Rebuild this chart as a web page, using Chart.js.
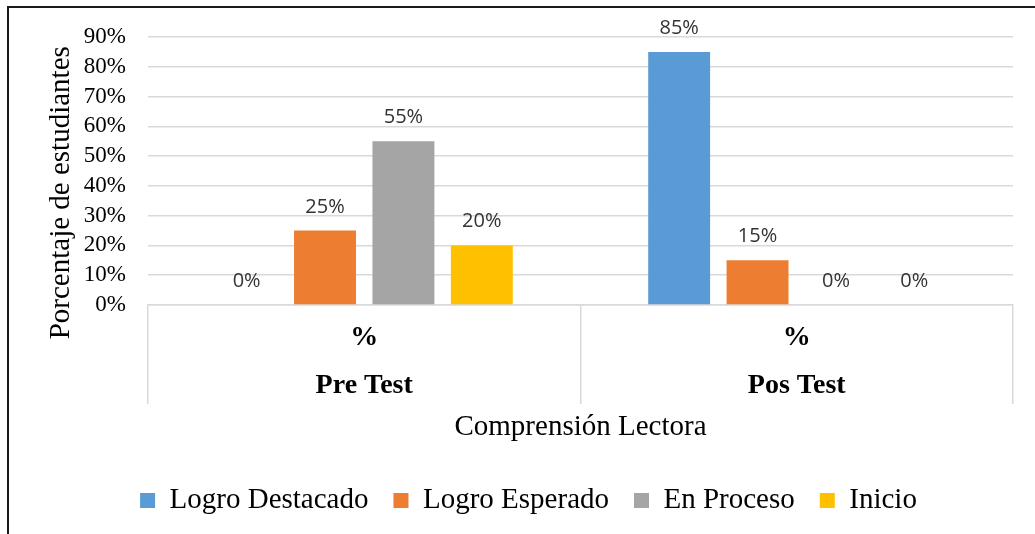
<!DOCTYPE html>
<html>
<head>
<meta charset="utf-8">
<script src="https://cdn.jsdelivr.net/npm/chart.js@4"></script>
<style>
  html, body { margin: 0; padding: 0; background: #fff; overflow: hidden; }
  #frame { position: absolute; left: 7px; top: 6px; width: 2000px; height: 2000px; border: 2px solid #1a1a1a; }
  #wrap { position: absolute; left: 0; top: 0; width: 1035px; height: 534px; }
</style>
</head>
<body>
<div id="frame"></div>
<div id="wrap"><canvas id="myChart" width="1035" height="534"></canvas></div>
<script>
// categories (two-level labels: sub label, test)
const categories = [['%', 'Pre Test'], ['%', 'Pos Test']];
const seriesNames = ['Logro Destacado', 'Logro Esperado', 'En Proceso', 'Inicio'];
const logroDestacado = [0, 85];
const logroEsperado = [25, 15];
const enProceso = [55, 0];
const inicio = [20, 0];
const seriesColors = ['#5B9BD5', '#ED7D31', '#A5A5A5', '#FFC000'];
const yTicks = [0, 10, 20, 30, 40, 50, 60, 70, 80, 90];

const serif = '"Liberation Serif", "Times New Roman", serif';

// value labels above each bar
const barLabels = {
    id: 'barLabels',
    afterDatasetsDraw(chart) {
        const ctx = chart.ctx;
        ctx.save();
        ctx.font = '20px "Open Sans", sans-serif';
        ctx.fillStyle = '#333';
        ctx.textAlign = 'center';
        ctx.textBaseline = 'alphabetic';
        chart.data.datasets.forEach((ds, i) => {
            chart.getDatasetMeta(i).data.forEach((bar, j) => {
                ctx.fillText(ds.data[j] + '%', bar.x, bar.y - 18);
            });
        });
        ctx.restore();
    }
};

document.addEventListener("DOMContentLoaded", () => {
    const allSeries = [logroDestacado, logroEsperado, enProceso, inicio];
    const ctx = document.getElementById('myChart').getContext('2d');
    new Chart(ctx, {
        type: 'bar',
        data: {
            labels: categories,
            datasets: allSeries.map((data, i) => ({
                label: seriesNames[i],
                data: data,
                backgroundColor: seriesColors[i],
                borderWidth: 0,
                barPercentage: 0.79,
                categoryPercentage: 0.725
            }))
        },
        options: {
            responsive: false,
            animation: false,
            layout: { padding: { left: 44, right: 22, top: 37, bottom: 9 } },
            plugins: {
                tooltip: { enabled: false },
                legend: {
                    position: 'bottom',
                    labels: {
                        font: { family: serif, size: 29 },
                        color: '#000',
                        boxWidth: 15,
                        boxHeight: 15,
                        padding: 25
                    }
                }
            },
            scales: {
                x: {
                    grid: {
                        offset: true,
                        drawOnChartArea: false,
                        drawTicks: true,
                        tickLength: 99,
                        color: '#d9d9d9',
                        lineWidth: 1.5
                    },
                    border: { display: true, color: '#d9d9d9', width: 1.5 },
                    ticks: {
                        font: { family: serif, size: 28, weight: 'bold', lineHeight: 1.72 },
                        color: '#000',
                        padding: -90,
                        maxRotation: 0
                    },
                    title: {
                        display: true,
                        text: 'Comprensión Lectora',
                        font: { family: serif, size: 29 },
                        color: '#000',
                        padding: { top: 0, bottom: 16 }
                    },
                    afterFit: axis => { axis.height = 156; }
                },
                y: {
                    min: 0,
                    max: 90,
                    afterBuildTicks: axis => { axis.ticks = yTicks.map(v => ({ value: v })); },
                    grid: { color: '#d9d9d9', lineWidth: 1.5, drawTicks: false },
                    border: { display: false },
                    ticks: {
                        font: { family: serif, size: 23 },
                        color: '#000',
                        padding: 22,
                        autoSkip: false,
                        callback: v => v + '%'
                    },
                    title: {
                        display: true,
                        text: 'Porcentaje de estudiantes\u00a0\u00a0\u00a0\u00a0\u00a0\u00a0',
                        font: { family: serif, size: 29 },
                        color: '#000',
                        padding: { top: 0, bottom: 4 }
                    },
                    afterFit: axis => { axis.width -= 21; }
                }
            }
        },
        plugins: [barLabels]
    });
});
</script>
</body>
</html>
